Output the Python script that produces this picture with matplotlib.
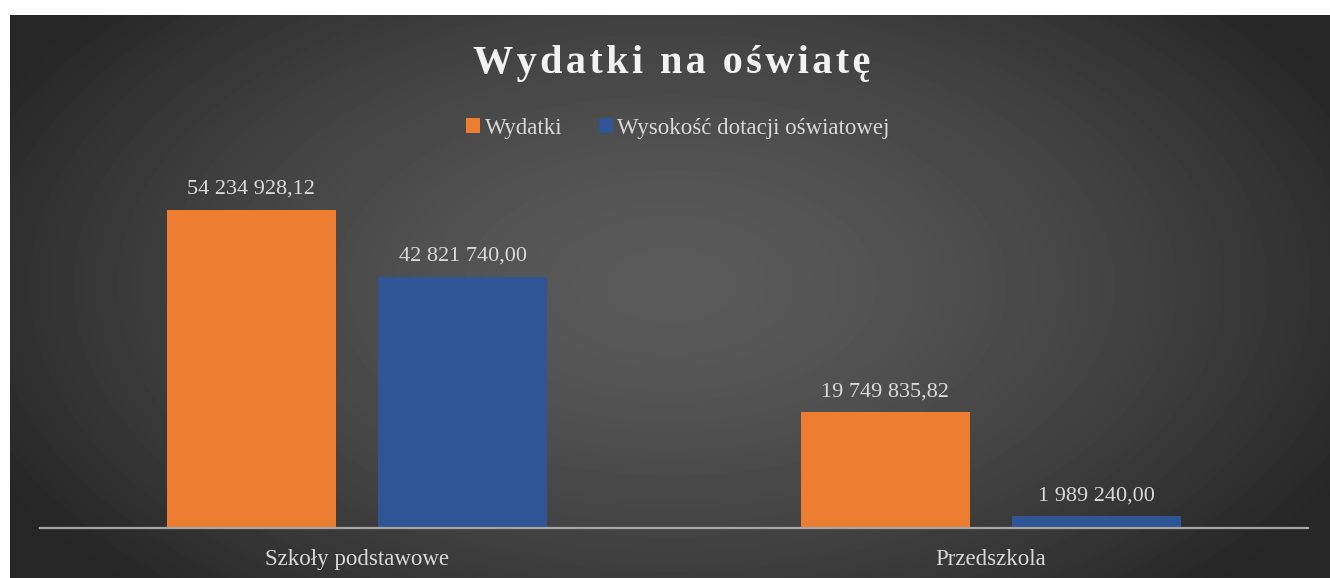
import numpy as np
import matplotlib
matplotlib.use("Agg")
import matplotlib.pyplot as plt

categories = ["Szkoły podstawowe", "Przedszkola"]
wydatki = [54234928.12, 19749835.82]
dotacja = [42821740.00, 1989240.00]
series_names = ["Wydatki", "Wysokość dotacji oświatowej"]
colors = ["#ED7D31", "#2F5597"]
title = "Wydatki na oświatę"


def fmt(v):
    s = f"{v:,.2f}"
    return s.replace(",", " ").replace(".", ",")


plt.rcParams['font.family'] = ['Liberation Serif', 'DejaVu Serif']

fig = plt.figure(figsize=(13.3, 5.78), dpi=100, facecolor="white")

# radial gradient background of the chart area
bg = fig.add_axes([10 / 1330, 0, 1320 / 1330, 563 / 578])
bg.set_axis_off()
yy, xx = np.mgrid[0:563, 0:1320]
d = np.sqrt(((xx - 660) / 760.0) ** 2 + ((yy - 270) / 430.0) ** 2)
d = np.clip(d, 0, 1)
val = 0x5a / 255 - (0x5a - 0x26) / 255 * d ** 1.5
bg.imshow(val, cmap="gray", vmin=0, vmax=1, aspect="auto", interpolation="bilinear")

ax = fig.add_axes([40 / 1330, 50 / 578, 1268 / 1330, 378 / 578])
ax.patch.set_alpha(0)
x = np.arange(len(categories))
w = 0.2666
off = 0.167
ax.bar(x - off, wydatki, w, color=colors[0], label=series_names[0])
ax.bar(x + off, dotacja, w, color=colors[1], label=series_names[1])

for xi, v in zip(x - off, wydatki):
    ax.annotate(fmt(v), (xi, v), xytext=(0, 8), textcoords="offset points",
                ha="center", va="bottom", color="#d9d9d9", fontsize=16)
for xi, v in zip(x + off, dotacja):
    ax.annotate(fmt(v), (xi, v), xytext=(0, 8), textcoords="offset points",
                ha="center", va="bottom", color="#d9d9d9", fontsize=16)

ax.set_xlim(-0.5, 1.5)
ax.set_ylim(0, 64.46e6)
ax.set_xticks(x)
ax.set_xticklabels(categories, color="#d9d9d9", fontsize=16.5)
ax.tick_params(axis="x", length=0, pad=15)
ax.set_yticks([])
for s in ["top", "left", "right"]:
    ax.spines[s].set_visible(False)
ax.spines["bottom"].set_color("#a6a6a6")
ax.spines["bottom"].set_linewidth(1.6)

# letter-spaced title
fig.text(672 / 1330, 1 - 64 / 578, "\u200a".join(title), ha="center", va="center",
         color="#f2f2f2", fontsize=29, fontweight="bold")

leg = fig.legend(loc="center", bbox_to_anchor=(678 / 1330, 1 - 128 / 578), ncol=2,
                 frameon=False, fontsize=16.5, labelcolor="#d9d9d9",
                 handlelength=0.6, handleheight=0.6, handletextpad=0.2, columnspacing=1.6)

fig.savefig("out.png", dpi=100, facecolor="white")
